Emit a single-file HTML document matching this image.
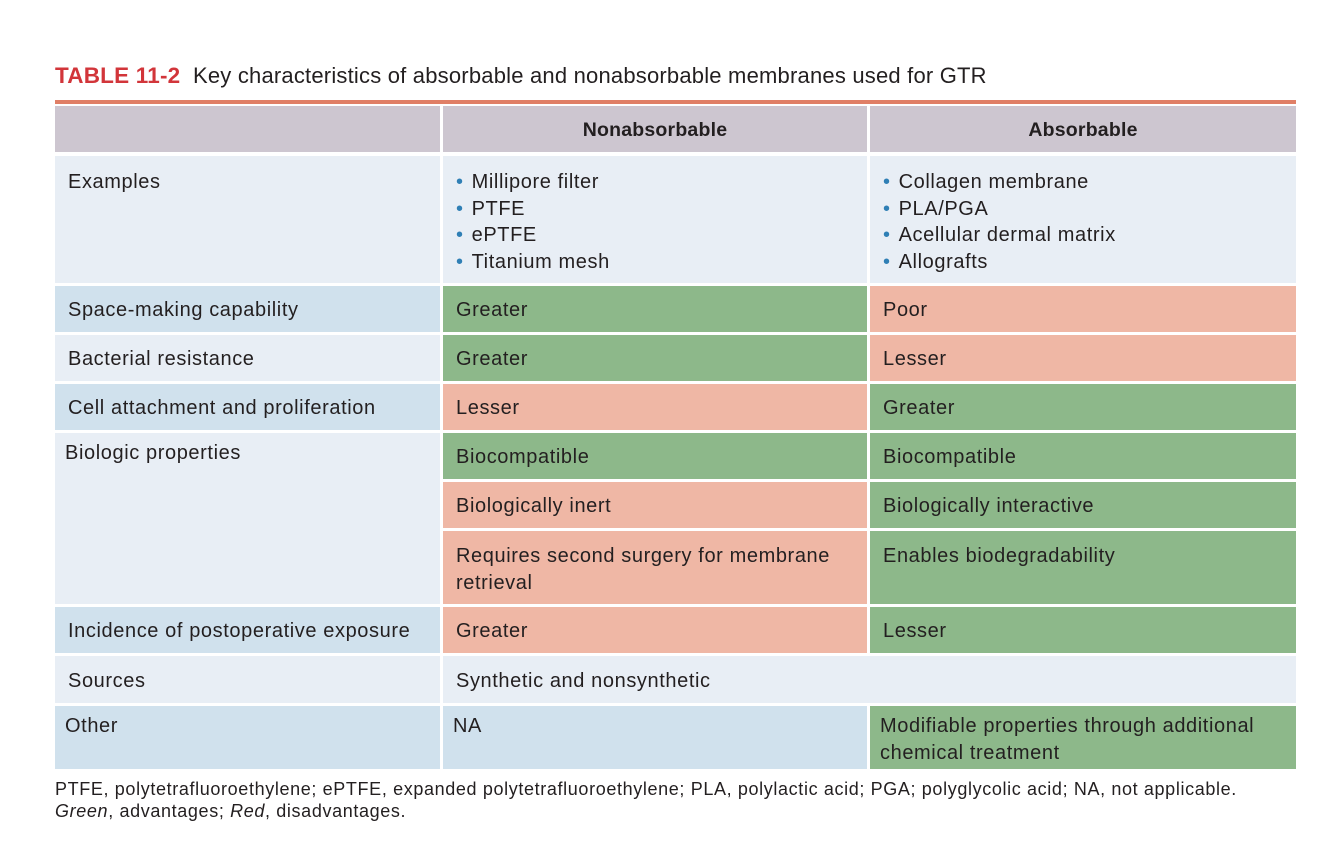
<!DOCTYPE html>
<html><head><meta charset="utf-8"><style>
body{margin:0;width:1334px;height:853px;background:#fff;position:relative;overflow:hidden;font-family:"Liberation Sans",sans-serif;color:#231f20}
.c{position:absolute;box-sizing:border-box;padding:3px 13px 0;font-size:20px;line-height:26.5px;letter-spacing:0.6px;display:flex;align-items:center}
.t{align-items:flex-start;padding-top:13px}
.g{background:#8db88a}.r{background:#efb7a5}.b{background:#d0e1ed}.l{background:#e8eef5}.h{background:#cdc6d0;justify-content:center;font-weight:bold;letter-spacing:0.2px;font-size:19.5px}
ul{margin:0;padding:0;list-style:none}
li:before{content:"•";color:#2f7fb5;margin-right:8px}
</style></head><body>
<div style="position:absolute;left:55px;top:63px;font-size:22px;letter-spacing:0.2px;white-space:nowrap"><b style="color:#d2353a;font-size:22.5px">TABLE 11-2</b>&nbsp; Key characteristics of absorbable and nonabsorbable membranes used for GTR</div>
<div style="position:absolute;left:55px;top:100px;width:1241px;height:4px;background:#e07f66"></div>

<div class="c h" style="left:55px;top:106px;width:385px;height:46px"></div>
<div class="c h" style="left:443px;top:106px;width:424px;height:46px">Nonabsorbable</div>
<div class="c h" style="left:870px;top:106px;width:426px;height:46px">Absorbable</div>

<div class="c l t" style="left:55px;top:156px;width:385px;height:127px">Examples</div>
<div class="c l t" style="left:443px;top:156px;width:424px;height:127px"><ul><li>Millipore filter</li><li>PTFE</li><li>ePTFE</li><li>Titanium mesh</li></ul></div>
<div class="c l t" style="left:870px;top:156px;width:426px;height:127px"><ul><li>Collagen membrane</li><li>PLA/PGA</li><li>Acellular dermal matrix</li><li>Allografts</li></ul></div>

<div class="c b" style="left:55px;top:286px;width:385px;height:46px">Space-making capability</div>
<div class="c g" style="left:443px;top:286px;width:424px;height:46px">Greater</div>
<div class="c r" style="left:870px;top:286px;width:426px;height:46px">Poor</div>

<div class="c l" style="left:55px;top:335px;width:385px;height:46px">Bacterial resistance</div>
<div class="c g" style="left:443px;top:335px;width:424px;height:46px">Greater</div>
<div class="c r" style="left:870px;top:335px;width:426px;height:46px">Lesser</div>

<div class="c b" style="left:55px;top:384px;width:385px;height:46px">Cell attachment and proliferation</div>
<div class="c r" style="left:443px;top:384px;width:424px;height:46px">Lesser</div>
<div class="c g" style="left:870px;top:384px;width:426px;height:46px">Greater</div>

<div class="c l t" style="left:55px;top:433px;width:385px;height:171px;padding-left:10px;padding-top:7px">Biologic properties</div>
<div class="c g" style="left:443px;top:433px;width:424px;height:46px">Biocompatible</div>
<div class="c g" style="left:870px;top:433px;width:426px;height:46px">Biocompatible</div>
<div class="c r" style="left:443px;top:482px;width:424px;height:46px">Biologically inert</div>
<div class="c g" style="left:870px;top:482px;width:426px;height:46px">Biologically interactive</div>
<div class="c r t" style="left:443px;top:531px;width:424px;height:73px;padding-top:12px">Requires second surgery for membrane retrieval</div>
<div class="c g t" style="left:870px;top:531px;width:426px;height:73px;padding-top:12px">Enables biodegradability</div>

<div class="c b" style="left:55px;top:607px;width:385px;height:46px">Incidence of postoperative exposure</div>
<div class="c r" style="left:443px;top:607px;width:424px;height:46px">Greater</div>
<div class="c g" style="left:870px;top:607px;width:426px;height:46px">Lesser</div>

<div class="c l" style="left:55px;top:656px;width:385px;height:47px">Sources</div>
<div class="c l" style="left:443px;top:656px;width:853px;height:47px">Synthetic and nonsynthetic</div>

<div class="c b t" style="left:55px;top:706px;width:385px;height:63px;padding-left:10px;padding-top:7px">Other</div>
<div class="c b t" style="left:443px;top:706px;width:424px;height:63px;padding-left:10px;padding-top:7px">NA</div>
<div class="c g t" style="left:870px;top:706px;width:426px;height:63px;padding-left:10px;padding-top:7px">Modifiable properties through additional chemical treatment</div>

<div style="position:absolute;left:55px;top:778px;font-size:18px;line-height:22px;letter-spacing:0.63px;white-space:nowrap">PTFE, polytetrafluoroethylene; ePTFE, expanded polytetrafluoroethylene; PLA, polylactic acid; PGA; polyglycolic acid; NA, not applicable.<br><i>Green</i>, advantages; <i>Red</i>, disadvantages.</div>
</body></html>
